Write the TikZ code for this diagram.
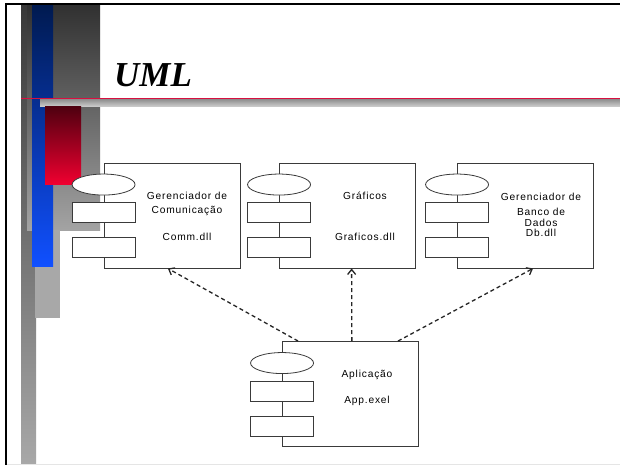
\documentclass[tikz,border=0pt]{standalone}
\usepackage{fontspec}
\usetikzlibrary{shapes.geometric,arrows.meta,calc}
\newfontfamily\labelfont[LetterSpace=8]{Liberation Sans}
\newfontfamily\titlefont{Liberation Serif}

\definecolor{edge}{HTML}{3A3A3A}
\definecolor{navy}{HTML}{001A50}
\definecolor{brightblue}{HTML}{1050FF}
\definecolor{darkred}{HTML}{500010}
\definecolor{brightred}{HTML}{F00030}
\definecolor{rule}{HTML}{D81040}

\tikzset{
  compbox/.style={draw=edge, line width=0.9pt, fill=white, rectangle,
    minimum width=136pt, minimum height=105pt, inner sep=0pt},
  compell/.style={draw=edge, line width=0.8pt, fill=white, ellipse,
    minimum width=63pt, minimum height=21pt, inner sep=0pt},
  comprect/.style={draw=edge, line width=0.8pt, fill=white, rectangle,
    minimum width=63pt, minimum height=20pt, inner sep=0pt},
  lbl/.style={font=\labelfont\fontsize{10.2}{12}\selectfont, text=black,
    inner sep=0pt, anchor=base},
  dep/.style={draw=black!85, line width=1.3pt, dash pattern=on 4pt off 3pt,
    -{Straight Barb[length=5pt,width=8pt]}},
}

% a component: box, ellipse port and two small rectangles on its left edge
\newcommand\component[2]{%
  \node[compbox] (#1) at #2 {};
  \node[compell]  (#1e)  at ($(#1.north west)+(0,22)$) {};
  \node[comprect] (#1r1) at ($(#1.north west)+(0,50)$) {};
  \node[comprect] (#1r2) at ($(#1.north west)+(0,85)$) {};
}

\begin{document}
\begin{tikzpicture}[x=1pt,y=-1pt]
\useasboundingbox (0,0) rectangle (620,465);
\fill[white] (0,0) rectangle (620,465);

% decorative bars on the left
\shade[top color=black!78, bottom color=black!34] (21,5) rectangle (36,465);
\shade[top color=black!81, bottom color=black!36] (27,5) rectangle (100,230);
\fill[black!34] (35,230) rectangle (60,318);
\shade[top color=navy, bottom color=brightblue] (32,5) rectangle (53,266);
\shade[top color=black!45, bottom color=black!18] (40,99) rectangle (620,107);
\draw[rule, line width=1.4pt] (21,98.3) -- (620,98.3);
\shade[top color=darkred, bottom color=brightred] (45,107) rectangle (81,184);

% page frame
\draw[black, line width=2pt] (5,4.3) -- (620,4.3);
\draw[black, line width=2pt] (6,3.3) -- (6,465);
\draw[black!10, line width=1pt] (7,464.5) -- (620,464.5);

% title
\node[font=\titlefont\bfseries\itshape\fontsize{35}{40}\selectfont,
  anchor=base west, inner sep=0pt] (title) at (114,87) {UML};

% components
\component{comm}{(172,215.5)}
\component{graf}{(347.5,215.5)}
\component{db}{(525.5,215.5)}
\component{app}{(350.5,394)}

% labels
\node[lbl] (commA) at (187,199.5) {Gerenciador de};
\node[lbl] (commB) at (187,213.5) {Comunicação};
\node[lbl] (commC) at (187,240.5) {Comm.dll};
\node[lbl] (grafA) at (365,199.5) {Gráficos};
\node[lbl] (grafB) at (365,240.5) {Graficos.dll};
\node[lbl] (dbA) at (541,200) {Gerenciador de};
\node[lbl] (dbB) at (541,215) {Banco de};
\node[lbl] (dbC) at (541,226) {Dados};
\node[lbl] (dbD) at (541,236.5) {Db.dll};
\node[lbl] (appA) at (367,377) {Aplicação};
\node[lbl] (appB) at (367,403) {App.exel};

% dependencies
\draw[dep] ($(app.north west)!0.117!(app.north east)$) -- ($(comm.south west)!0.47!(comm.south east)$);
\draw[dep] ($(app.north west)!0.51!(app.north east)$) -- ($(graf.south west)!0.53!(graf.south east)$);
\draw[dep] ($(app.north west)!0.847!(app.north east)$) -- ($(db.south west)!0.555!(db.south east)$);
\end{tikzpicture}
\end{document}
